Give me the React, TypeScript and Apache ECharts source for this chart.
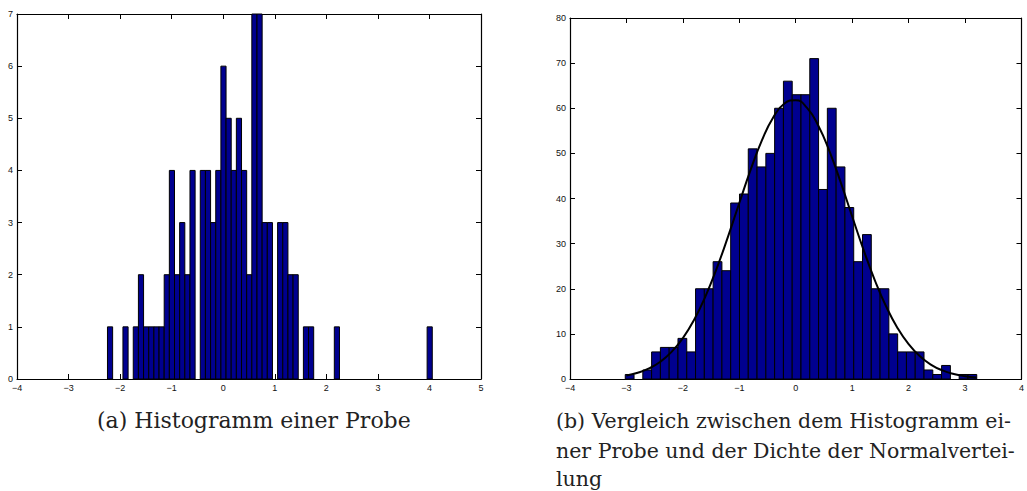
import React, { useEffect, useRef } from "react";
import * as echarts from "echarts";

// (a) histogram of a sample: 63 bins of width 0.1 starting at -2.245
const binStartA = -2.245;
const binWidthA = 0.1;
const countsA = [
  1, 0, 0, 1, 0, 1, 2, 1, 1, 1,
  1, 2, 4, 2, 3, 2, 4, 0, 4, 4,
  3, 4, 6, 5, 4, 5, 4, 2, 7, 7,
  3, 3, 0, 3, 3, 2, 2, 0, 1, 1,
  0, 0, 0, 0, 1, 0, 0, 0, 0, 0,
  0, 0, 0, 0, 0, 0, 0, 0, 0, 0,
  0, 0, 1,
];

// (b) histogram of 1000 samples: 40 bins
const binStartB = -3.021;
const binWidthB = 0.1557;
const countsB = [
  1, 0, 2, 6, 7, 7, 9, 6, 20, 20,
  26, 24, 39, 41, 51, 47, 50, 60, 66, 63,
  63, 71, 42, 60, 47, 38, 26, 32, 20, 20,
  10, 6, 6, 6, 2, 1, 3, 0, 1, 1,
];

// density curve
const curveX = [
  -3.0, -2.8, -2.6, -2.4, -2.2, -2.0, -1.8, -1.6, -1.4, -1.2, -1.0, -0.8, -0.6, -0.4, -0.2,
  0.0, 0.2, 0.4, 0.6, 0.8, 1.0, 1.2, 1.4, 1.6, 1.8, 2.0, 2.2, 2.4, 2.6, 2.8, 3.0, 3.2,
];
const curveY = [
  0.77, 1.37, 2.34, 3.82, 6.0, 9.06, 13.14, 18.32, 24.53, 31.56, 39.01, 46.33, 52.87, 57.96, 61.05,
  61.79, 60.08, 56.13, 50.39, 43.46, 36.01, 28.67, 21.93, 16.12, 11.38, 7.72, 5.03, 3.15, 1.9, 1.1, 0.61, 0.32,
];

const captionA = "(a) Histogramm einer Probe";
const captionB = [
  "(b) Vergleich zwischen dem Histogramm ei-",
  "ner Probe und der Dichte der Normalvertei-",
  "lung",
];

const BAR_FILL = "#00008F";

function fmt(v: number): string {
  return v < 0 ? "\u2212" + Math.abs(v) : String(v);
}

function makeAxes(gridIndex: number, xmin: number, xmax: number, ymax: number, yint: number) {
  const tick = { show: true, inside: true, length: 5, lineStyle: { color: "#000", width: 1 } };
  const line = { show: true, onZero: false, lineStyle: { color: "#000", width: 1.2 } };
  const label = { fontSize: 9, color: "#111", fontFamily: "Liberation Sans", formatter: fmt };
  const x = [
    { type: "value", gridIndex, min: xmin, max: xmax, interval: 1, position: "bottom", axisLine: line, axisTick: tick, axisLabel: { ...label, margin: 4 }, splitLine: { show: false } },
    { type: "value", gridIndex, min: xmin, max: xmax, interval: 1, position: "top", axisLine: line, axisTick: tick, axisLabel: { show: false }, splitLine: { show: false } },
  ];
  const y = [
    { type: "value", gridIndex, min: 0, max: ymax, interval: yint, position: "left", axisLine: line, axisTick: tick, axisLabel: { ...label, margin: 4 }, splitLine: { show: false } },
    { type: "value", gridIndex, min: 0, max: ymax, interval: yint, position: "right", axisLine: line, axisTick: tick, axisLabel: { show: false }, splitLine: { show: false } },
  ];
  return { x, y };
}

function barRender(params: any, api: any) {
  const p0 = api.coord([api.value(0), api.value(2)]);
  const p1 = api.coord([api.value(1), 0]);
  return {
    type: "rect",
    shape: { x: p0[0], y: p0[1], width: p1[0] - p0[0], height: p1[1] - p0[1] },
    style: { fill: BAR_FILL, stroke: "#000", lineWidth: 1 },
  };
}

export default function App() {
  const ref = useRef<HTMLDivElement>(null);
  useEffect(() => {
    if (!ref.current) return;
    const chart = echarts.init(ref.current, undefined, { renderer: "svg" });
    const a = makeAxes(0, -4, 5, 7, 1);
    const b = makeAxes(1, -4, 4, 80, 10);

    const barsA = countsA
      .map((c, i) => [binStartA + i * binWidthA, binStartA + (i + 1) * binWidthA, c])
      .filter((d) => d[2] > 0);
    const barsB = countsB
      .map((c, i) => [binStartB + i * binWidthB, binStartB + (i + 1) * binWidthB, c])
      .filter((d) => d[2] > 0);

    const fontA = '22px "DejaVu Serif"';
    const fontB = '20.5px "DejaVu Serif"';
    chart.setOption({
      animation: false,
      backgroundColor: "#fff",
      grid: [
        { left: 17, top: 14, width: 464, height: 365, containLabel: false },
        { left: 570, top: 18, width: 458, height: 361, containLabel: false },
      ],
      xAxis: [...a.x, ...b.x],
      yAxis: [...a.y, ...b.y],
      series: [
        {
          type: "custom",
          xAxisIndex: 0,
          yAxisIndex: 0,
          renderItem: barRender,
          encode: { x: [0, 1], y: 2 },
          data: barsA,
          z: 2,
        },
        {
          type: "custom",
          xAxisIndex: 2,
          yAxisIndex: 2,
          renderItem: barRender,
          encode: { x: [0, 1], y: 2 },
          data: barsB,
          z: 2,
        },
        {
          type: "line",
          xAxisIndex: 2,
          yAxisIndex: 2,
          data: curveX.map((x, i) => [x, curveY[i]]),
          smooth: true,
          showSymbol: false,
          lineStyle: { color: "#000", width: 2 },
          z: 5,
        },
      ],
      graphic: [
        { type: "text", x: 97, y: 409, style: { text: captionA, font: fontA, fill: "#222" } },
        ...captionB.map((t, i) => ({
          type: "text",
          x: 556,
          y: 410 + [0, 30, 58][i],
          style: { text: t, font: fontB, fill: "#222" },
        })),
      ],
    });
    return () => chart.dispose();
  }, []);
  return <div ref={ref} style={{ position: "absolute", left: 0, top: 0, width: 1027, height: 491 }} />;
}
